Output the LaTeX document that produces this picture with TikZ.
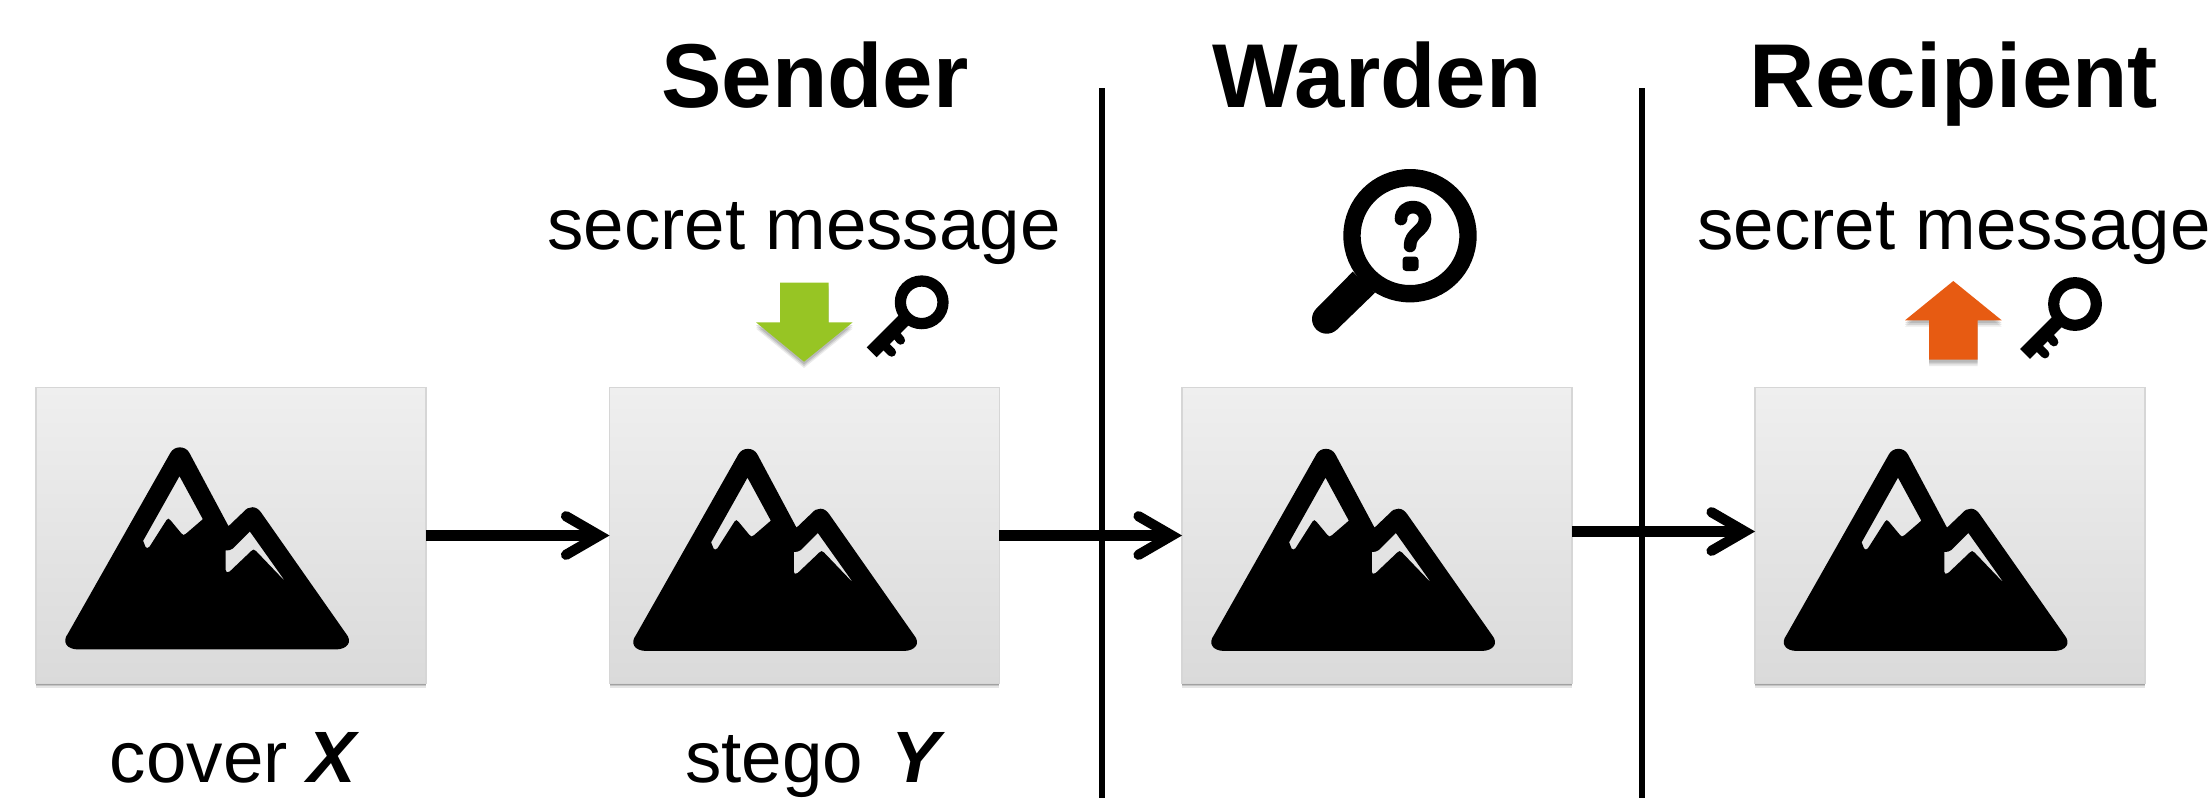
\documentclass[tikz,border=0pt]{standalone}
\usepackage{fontspec}
\setmainfont{Liberation Sans}
\usetikzlibrary{arrows.meta,calc,shadows}
\definecolor{boxtop}{HTML}{EFEFEF}
\definecolor{boxbot}{HTML}{DADADA}
\definecolor{boxline}{HTML}{D6D6D6}
\definecolor{gofill}{HTML}{97C524}
\definecolor{upfill}{HTML}{E75B12}
\tikzset{
  imgbox/.style={draw=boxline,line width=.7pt,top color=boxtop,bottom color=boxbot,
    minimum width=7.8cm,minimum height=5.92cm,outer sep=0pt,inner sep=0pt,
    drop shadow={shadow xshift=0pt,shadow yshift=-2.4pt,opacity=.10,fill=black},
    drop shadow={shadow xshift=0pt,shadow yshift=-1.7pt,opacity=.14,fill=black},
    drop shadow={shadow xshift=0pt,shadow yshift=-1pt,opacity=.18,fill=black}},
  flow/.style={line width=6pt,-{Straight Barb[length=19pt,width=22pt,line width=5.8pt,line cap=round]}},
  divider/.style={line width=2.9pt,black},
  head/.style={font=\fontsize{51.6}{51.6}\selectfont\bfseries,anchor=base,inner sep=0pt},
  label/.style={font=\fontsize{41.4}{41.4}\selectfont,anchor=base,inner sep=0pt},
  block/.style={
    drop shadow={shadow xshift=0pt,shadow yshift=-3.6pt,opacity=.08,fill=black},
    drop shadow={shadow xshift=0pt,shadow yshift=-2.6pt,opacity=.10,fill=black},
    drop shadow={shadow xshift=0pt,shadow yshift=-1.6pt,opacity=.12,fill=black}},
  mountain/.pic={
    \begin{scope}[xscale=.3953,yscale=.3333,shift={(-40,-52)}]
      \fill[black,even odd rule]
        (148,838) -- (797,838) .. controls (828,838) and (842,815) .. (824,790)
        -- (610,428) .. controls (598,406) and (578,406) .. (565,425)
        -- (527,468) -- (428,248) .. controls (418,226) and (390,226) .. (380,248)
        -- (121,790) .. controls (105,815) and (117,838) .. (148,838) -- cycle
        (403,318) -- (462,447) -- (420,490) .. controls (414,496) and (412,496) .. (408,490)
        -- (380,450) .. controls (376,444) and (373,444) .. (370,450)
        -- (327,530) .. controls (323,536) and (319,534) .. (317,530) -- (311,512) -- cycle
        (581,484) -- (672,636) -- (597,543) .. controls (592,537) and (589,537) .. (585,542)
        -- (530,604) .. controls (524,609) and (520,607) .. (520,600) -- (520,541)
        .. controls (528,541) and (533,540) .. (538,535) -- cycle;
    \end{scope}
  },
  door key/.pic={
    \draw[line width=6.4pt,black] (0,0) circle (21.3);
    \draw[line width=8pt,black] (-16,16) -- (-50,50);
    \draw[line width=5pt,black,line cap=round] (-25,33) -- (-21,38);
    \draw[line width=5pt,black,line cap=round] (-36,44) -- (-30,50);
  }
}
\begin{document}
\begin{tikzpicture}[x=0.02cm,y=-0.02cm]
\useasboundingbox (0,0) rectangle (2211,798);
\node[imgbox] (a) at (231,535.5) {};
\node[imgbox] (b) at (804.5,535.5) {};
\node[imgbox] (c) at (1377,535.5) {};
\node[imgbox] (d) at (1950,535.5) {};
\pic at (36,387.5) {mountain};
\pic at (604,389) {mountain};
\pic at (1182,389) {mountain};
\pic at (1754.5,389) {mountain};
\coordinate (l1t) at (1102,88); \coordinate (l1b) at (1102,798);
\coordinate (l2t) at (1642,88); \coordinate (l2b) at (1642,798);
\draw[divider] (l1t) -- (l1b);
\draw[divider] (l2t) -- (l2b);
\draw[flow] (a.east) -- (b.west);
\draw[flow] (b.east) -- (c.west);
\draw[flow] ($(c.east)+(0,-4)$) -- ($(d.west)+(0,-4)$);
\node[head] (sender) at (815,107) {Sender};
\node[head] (warden) at (1377,107) {Warden};
\node[head] (recipient) at (1954,107) {Recipient};
\node[label] (m1) at (804,249) {secret message};
\node[label] (m2) at (1954,249) {secret message};
\node[label] (cover) at (235,782) {cover \textbf{\textit{X}}};
\node[label] (stego) at (815.5,782) {stego\hspace{.12em} \textbf{\textit{Y}}};
% down arrow
\fill[gofill,block] (780,282.7) -- (828.7,282.7) -- (828.7,322.3) -- (852.7,322.3)
  -- (804,361.7) -- (756,322.3) -- (780,322.3) -- cycle;
% up arrow
\fill[upfill,block] (1953.3,281) -- (2001.7,320.3) -- (1977.7,320.3) -- (1977.7,359.7)
  -- (1929,359.7) -- (1929,320.3) -- (1905,320.3) -- cycle;
\pic at (921.7,302.3) {door key};
\pic at (2075,304) {door key};
% magnifier
\draw[black,line width=9.9pt] (1410,235.7) circle (58);
\fill[black] (1352.7,271.7) -- (1375,292.7) -- (1337,329.5) -- (1316.5,308.5) -- cycle;
\fill[black] (1326.7,319) circle (14.7);
% question mark
\draw[black,line width=7.2pt,line cap=round,line join=round]
  (1401,219) .. controls (1401,203) and (1425,203) .. (1425,219)
  .. controls (1425,231) and (1410,232) .. (1410,246);
\fill[black,rounded corners=2pt] (1402.5,256.5) rectangle (1418.5,271);
\end{tikzpicture}
\end{document}
